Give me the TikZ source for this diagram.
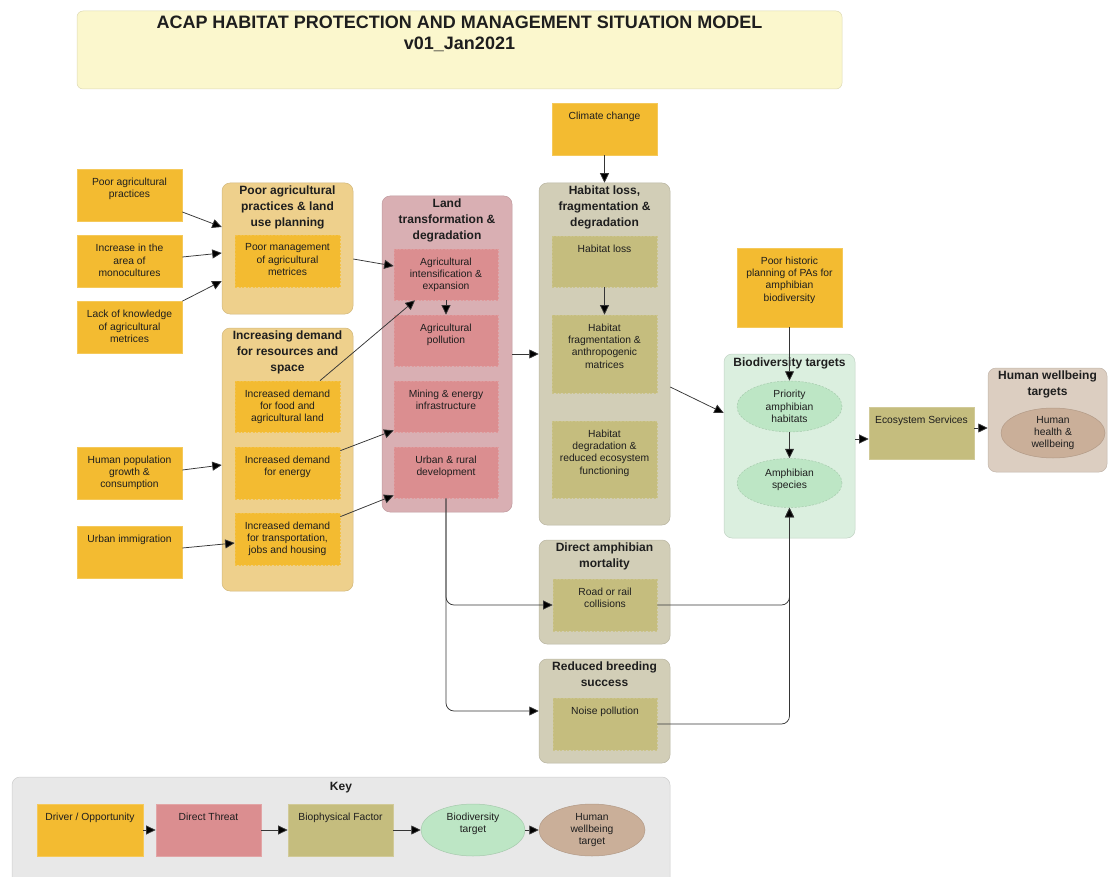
\documentclass[tikz,border=0pt]{standalone}
\usepackage{fontspec}
\setmainfont{Liberation Sans}
\usetikzlibrary{arrows.meta,shapes.geometric}

\definecolor{ink}{HTML}{1E1E1E}
\definecolor{wire}{HTML}{353535}
\definecolor{titlebg}{HTML}{FBF7CD}
\definecolor{drv}{HTML}{F3BB31}
\definecolor{drvgrp}{HTML}{EED08C}
\definecolor{thr}{HTML}{DB8E90}
\definecolor{thrgrp}{HTML}{D9AFB3}
\definecolor{bph}{HTML}{C5BD7E}
\definecolor{bphgrp}{HTML}{D2CEB7}
\definecolor{tgt}{HTML}{BDE6C5}
\definecolor{tgtgrp}{HTML}{DBEFDF}
\definecolor{hum}{HTML}{CAAF99}
\definecolor{humgrp}{HTML}{DCCEC1}
\definecolor{keybg}{HTML}{E8E8E8}

\begin{document}
\begin{tikzpicture}[x=1pt,y=-1pt,
  txt/.style={font=\fontsize{10.3}{12.3}\selectfont, align=center, text=ink, inner sep=0pt},
  lbl/.style={txt, anchor=north, yshift=-9pt},
  ttl/.style={font=\fontsize{12}{16}\selectfont\bfseries, align=center, text=ink, inner sep=0pt, anchor=north, yshift=-3pt},
  head/.style={font=\fontsize{18}{21}\selectfont\bfseries, align=center, text=ink, inner sep=0pt, anchor=north, yshift=-5pt},
  panel/.style={rectangle, rounded corners=8pt, fill=#1, draw=#1!88!black, line width=0.5pt, inner sep=0pt},
  box/.style={rectangle, fill=#1, draw=#1!80!white, line width=0.7pt, inner sep=0pt, minimum width=105pt, minimum height=52pt},
  inbox/.style={box=#1, draw=#1!90!white, dashed, dash pattern=on 2pt off 1.5pt},
  oval/.style={ellipse, fill=#1, draw=#1!88!black, line width=0.5pt, inner sep=0pt, minimum width=105pt, minimum height=51pt},
  doval/.style={oval=#1, dashed, dash pattern=on 2pt off 1.5pt, txt},
  arr/.style={-{Triangle[length=9.5pt,width=9pt,fill=black]}, draw=wire, line width=0.75pt},
]
\useasboundingbox (0,0) rectangle (1108,877);
\clip (0,0) rectangle (1108,877);

% ---------- title ----------
\node[panel=titlebg, rounded corners=6pt, minimum width=765pt, minimum height=78pt,
  label={[head]north:{ACAP HABITAT PROTECTION AND MANAGEMENT SITUATION MODEL\\v01\_Jan2021}}] (tit) at (459.5,50) {};

% ---------- group panels ----------
\node[panel=drvgrp, minimum width=131pt, minimum height=131pt,
  label={[ttl]north:{Poor agricultural\\practices \& land\\use planning}}] (gap) at (287.5,248.5) {};
\node[panel=drvgrp, minimum width=131pt, minimum height=263pt,
  label={[ttl]north:{Increasing demand\\for resources and\\space}}] (dem) at (287.5,459.5) {};
\node[panel=thrgrp, minimum width=130pt, minimum height=316pt,
  label={[ttl]north:{Land\\transformation \&\\degradation}}] (land) at (447,354) {};
\node[panel=bphgrp, minimum width=131pt, minimum height=342pt,
  label={[ttl]north:{Habitat loss,\\fragmentation \&\\degradation}}] (hab) at (604.5,354) {};
\node[panel=bphgrp, minimum width=131pt, minimum height=104pt,
  label={[ttl]north:{Direct amphibian\\mortality}}] (mort) at (604.5,592) {};
\node[panel=bphgrp, minimum width=131pt, minimum height=104pt,
  label={[ttl]north:{Reduced breeding\\success}}] (breed) at (604.5,711) {};
\node[panel=tgtgrp, minimum width=131pt, minimum height=184pt,
  label={[ttl, yshift=-1pt]north:{Biodiversity targets}}] (bio) at (789.5,446) {};
\node[panel=humgrp, minimum width=119pt, minimum height=104pt,
  label={[ttl]north:{Human wellbeing\\targets}}] (hum) at (1047.5,420) {};

% ---------- drivers ----------
\node[box=drv, label={[lbl]north:{Poor agricultural\\practices}}] (pap) at (129.5,195) {};
\node[box=drv, label={[lbl]north:{Increase in the\\area of\\monocultures}}] (mono) at (129.5,261.5) {};
\node[box=drv, label={[lbl]north:{Lack of knowledge\\of agricultural\\metrices}}] (lack) at (129.5,327.5) {};
\node[box=drv, label={[lbl]north:{Human population\\growth \&\\consumption}}] (hpop) at (129.5,473) {};
\node[box=drv, label={[lbl]north:{Urban immigration}}] (urb) at (129.5,552.5) {};
\node[box=drv, label={[lbl]north:{Climate change}}] (clim) at (604.5,129) {};
\node[box=drv, minimum height=79pt, label={[lbl]north:{Poor historic\\planning of PAs for\\amphibian\\biodiversity}}] (phist) at (789.5,287.5) {};

% ---------- grouped drivers ----------
\node[inbox=drv, label={[lbl]north:{Poor management\\of agricultural\\metrices}}] (pmg) at (287.5,261) {};
\node[inbox=drv, minimum height=51pt, label={[lbl]north:{Increased demand\\for food and\\agricultural land}}] (food) at (287.5,406.5) {};
\node[inbox=drv, label={[lbl]north:{Increased demand\\for energy}}] (ener) at (287.5,473) {};
\node[inbox=drv, label={[lbl]north:{Increased demand\\for transportation,\\jobs and housing}}] (trans) at (287.5,539) {};

% ---------- direct threats ----------
\node[inbox=thr, minimum width=104pt, minimum height=51pt, label={[lbl]north:{Agricultural\\intensification \&\\expansion}}] (ai) at (446,274.5) {};
\node[inbox=thr, minimum width=104pt, minimum height=51pt, label={[lbl]north:{Agricultural\\pollution}}] (ap) at (446,340.5) {};
\node[inbox=thr, minimum width=104pt, minimum height=51pt, label={[lbl]north:{Mining \& energy\\infrastructure}}] (mine) at (446,406.5) {};
\node[inbox=thr, minimum width=104pt, minimum height=51pt, label={[lbl]north:{Urban \& rural\\development}}] (udev) at (446,472.5) {};

% ---------- biophysical factors ----------
\node[inbox=bph, minimum height=51pt, label={[lbl]north:{Habitat loss}}] (hloss) at (604.5,261.5) {};
\node[inbox=bph, minimum height=78pt, label={[lbl]north:{Habitat\\fragmentation \&\\anthropogenic\\matrices}}] (hfrag) at (604.5,354) {};
\node[inbox=bph, minimum height=77pt, label={[lbl]north:{Habitat\\degradation \&\\reduced ecosystem\\functioning}}] (hdeg) at (604.5,459.5) {};
\node[inbox=bph, minimum width=104pt, label={[lbl]north:{Road or rail\\collisions}}] (road) at (605,605) {};
\node[inbox=bph, minimum width=104pt, label={[lbl]north:{Noise pollution}}] (noise) at (605,724) {};
\node[box=bph, label={[lbl]north:{Ecosystem Services}}] (eco) at (921.5,433) {};

% ---------- targets ----------
\node[doval=tgt] (prio) at (789.5,406.5) {Priority\\amphibian\\habitats};
\node[doval=tgt, minimum height=49pt, label={[txt, yshift=3.5pt]center:{Amphibian\\species}}] (amph) at (789.5,483) {};
\node[oval=hum, minimum width=104pt, minimum height=50pt, txt] (hh) at (1053,433) {Human\\health \&\\wellbeing};

% ---------- connectors ----------
\draw[arr] ([yshift=-17pt]pap.east) -- ([yshift=21.5pt]gap.west);
\draw[arr] ([yshift=4.5pt]mono.east) -- ([yshift=-4.5pt]gap.west);
\draw[arr] (lack.north east) -- ([yshift=-32.5pt]gap.west);
\draw[arr] ([yshift=3pt]hpop.east) -- ([yshift=-5.5pt]dem.west);
\draw[arr] ([yshift=4.5pt]urb.east) -- ([yshift=-4pt]trans.west);
\draw[arr] ([yshift=-10.5pt]gap.east) -- ([yshift=8.5pt]ai.west);
\draw[arr] ([xshift=32.5pt]food.north) -- ([xshift=-31pt]ai.south);
\draw[arr] ([yshift=-4pt]ener.north east) -- ([yshift=2pt]mine.south west);
\draw[arr] ([yshift=-4pt]trans.north east) -- ([yshift=3pt]udev.south west);
\draw[arr] (ai.south) -- (ap.north);
\draw[arr] (land.east) -- (hab.west);
\draw[arr] (clim.south) -- (hab.north);
\draw[arr] (hloss.south) -- (hfrag.north);
\draw[arr] ([yshift=-33pt]hab.east) -- ([yshift=33pt]bio.west);
\draw[arr] (phist.south) -- (prio.north);
\draw[arr] (prio.south) -- (amph.north);
\draw[arr] ([yshift=7pt]bio.east) -- ([yshift=-6pt]eco.west);
\draw[arr] ([yshift=5pt]eco.east) -- ([yshift=-8pt]hum.west);
\draw[arr, rounded corners=8pt] (udev.south) |- (road.west);
\draw[arr, rounded corners=8pt] (udev.south) |- (breed.west);
\draw[arr, rounded corners=8pt] (road.east) -| (amph.south);
\draw[arr, rounded corners=8pt] (noise.east) -| (amph.south);

% ---------- key ----------
\node[panel=keybg, minimum width=658pt, minimum height=120pt,
  label={[ttl, yshift=-2pt]north:{Key}}] (key) at (341,837) {};
\node[box=drv, minimum width=106pt, label={[lbl]north:{Driver / Opportunity}}] (k1) at (90,830) {};
\node[box=thr, minimum width=105pt, label={[lbl]north:{Direct Threat}}] (k2) at (208.5,830) {};
\node[box=bph, label={[lbl]north:{Biophysical Factor}}] (k3) at (340.5,830) {};
\node[oval=tgt, minimum width=104pt, minimum height=52pt, label={[lbl]north:{Biodiversity\\target}}] (k4) at (473,830) {};
\node[oval=hum, minimum width=106pt, minimum height=52pt, label={[lbl]north:{Human\\wellbeing\\target}}] (k5) at (592,830) {};
\draw[arr] (k1.east) -- (k2.west);
\draw[arr] (k2.east) -- (k3.west);
\draw[arr] (k3.east) -- (k4.west);
\draw[arr] (k4.east) -- (k5.west);
\end{tikzpicture}
\end{document}
